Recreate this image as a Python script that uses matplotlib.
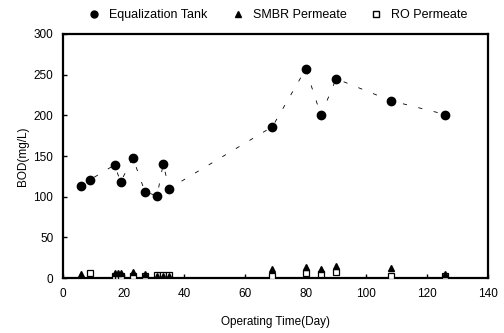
import matplotlib
matplotlib.use("Agg")
import matplotlib.pyplot as plt
from matplotlib.lines import Line2D

plt.rcParams['font.family'] = ['Liberation Sans', 'DejaVu Sans']

# Data
eq_days = [6, 9, 17, 19, 23, 27, 31, 33, 35, 69, 80, 85, 90, 108, 126]
eq_bod = [113, 121, 139, 118, 148, 106, 101, 140, 110, 186, 257, 200, 245, 218, 201]

smbr_days = [6, 17, 18, 19, 23, 27, 31, 33, 35, 69, 80, 85, 90, 108, 126]
smbr_bod = [5, 6, 6, 6, 7, 5, 3, 3, 3, 11, 14, 11, 15, 12, 5]

ro_days = [9, 17, 18, 19, 23, 27, 31, 33, 35, 69, 80, 85, 90, 108, 126]
ro_bod = [6, 3, 3, 3, 3, 3, 4, 4, 4, 3, 6, 5, 8, 3, 3]

xticks = [0, 20, 40, 60, 80, 100, 120, 140]
yticks = [0, 50, 100, 150, 200, 250, 300]

fig = plt.figure(figsize=(5.04, 3.33), dpi=100)
ax = fig.add_axes([0.125, 0.165, 0.843, 0.733])

ax.plot(eq_days, eq_bod, linestyle=(0, (5, 14)), color='black', linewidth=0.6, zorder=1)
ax.plot(eq_days, eq_bod, 'o', color='black', markersize=6, linestyle='none', zorder=3)
ax.plot(ro_days, ro_bod, 's', markerfacecolor='white', markeredgecolor='black',
        markersize=5, markeredgewidth=0.9, linestyle='none', zorder=3)
ax.plot(smbr_days, smbr_bod, '^', color='black', markersize=5, linestyle='none', zorder=4)

ax.set_xlim(0, 140)
ax.set_ylim(0, 300)
ax.set_xticks(xticks)
ax.set_yticks(yticks)
ax.tick_params(direction='in', length=3, width=1, labelsize=8.5)
ax.tick_params(axis='x', pad=7)
ax.tick_params(axis='y', pad=7)
for s in ax.spines.values():
    s.set_linewidth(1.6)

ax.set_xlabel('Operating Time(Day)', fontsize=8.5, labelpad=12)
ax.set_ylabel('BOD(mg/L)', fontsize=8.5, labelpad=3)

handles = [
    Line2D([], [], marker='o', color='black', linestyle='none', markersize=5),
    Line2D([], [], marker='^', color='black', linestyle='none', markersize=5),
    Line2D([], [], marker='s', markerfacecolor='white', markeredgecolor='black',
           linestyle='none', markersize=5),
]
fig.legend(handles, ['Equalization Tank', 'SMBR Permeate', 'RO Permeate'],
           loc='center', bbox_to_anchor=(0.55, 0.955), ncol=3, frameon=False,
           fontsize=9, handletextpad=0.6, columnspacing=1.8, handlelength=1.2)

fig.savefig('out.png', dpi=100)
